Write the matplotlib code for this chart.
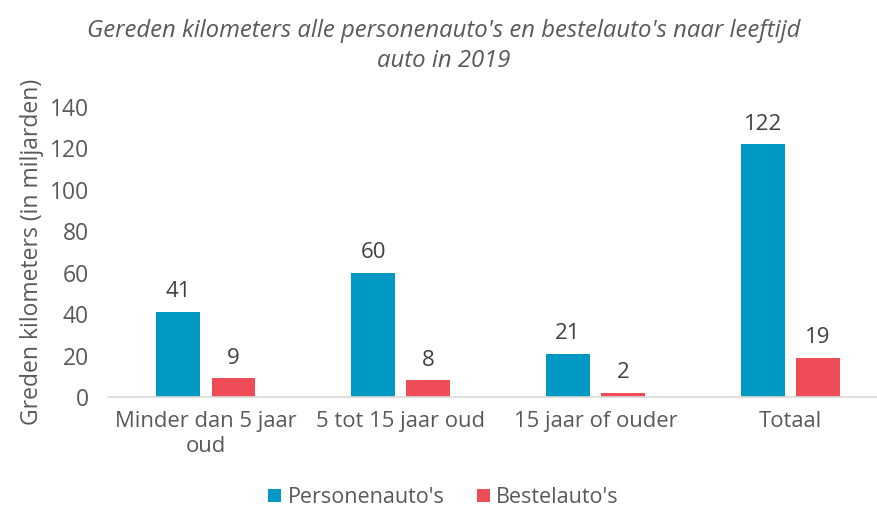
import matplotlib
matplotlib.use('Agg')
import matplotlib.pyplot as plt
import numpy as np

categories = ['Minder dan 5 jaar\noud', '5 tot 15 jaar oud', '15 jaar of ouder', 'Totaal']
personen = [41, 60, 21, 122]
bestel = [9, 8, 2, 19]
series_names = ["Personenauto's", "Bestelauto's"]
yticks = [0, 20, 40, 60, 80, 100, 120, 140]

plt.rcParams['font.family'] = ['Open Sans', 'DejaVu Sans']
grey = '#595959'
blue = '#0099C4'
red = '#EE4D57'

fig = plt.figure(figsize=(8.78, 5.13), dpi=100)
ax = fig.add_axes([108.5/878, 1-397/513, 1-108.5/878, (397-107)/513])

x = np.arange(len(categories))
w = 0.225
off = 0.142
b1 = ax.bar(x-off, personen, w, color=blue, label=series_names[0])
b2 = ax.bar(x+off, bestel, w, color=red, label=series_names[1])

for bars, vals in [(b1, personen), (b2, bestel)]:
    for r, v in zip(bars, vals):
        ax.annotate(str(v), (r.get_x()+r.get_width()/2, v), xytext=(0, 7),
                    textcoords='offset points', ha='center', va='bottom',
                    fontsize=16, color='#404040')

ax.set_xlim(-0.5, 3.45)
ax.set_ylim(0, 140)
ax.set_yticks(yticks)
ax.set_xticks(x)
ax.set_xticklabels(categories)
ax.tick_params(axis='y', length=0, pad=14, labelsize=16.5, labelcolor=grey)
ax.tick_params(axis='x', length=0, pad=10, labelsize=15.8, labelcolor=grey)
for t in ax.get_xticklabels():
    t.set_linespacing(1.25)
for s in ['top', 'right', 'left']:
    ax.spines[s].set_visible(False)
ax.spines['bottom'].set_color('#D9D9D9')
ax.spines['bottom'].set_linewidth(1.2)
ax.set_ylabel('Greden kilometers (in miljarden)', fontsize=16.5, color=grey, labelpad=4)

fig.text(0.505, 0.91, "Gereden kilometers alle personenauto's en bestelauto's naar leeftijd\nauto in 2019",
         ha='center', va='center', fontsize=17.2, style='italic', color=grey, linespacing=1.35)

fig.legend(handles=[b1, b2], loc='center', bbox_to_anchor=(0.505, 0.03), ncol=2, frameon=False,
           fontsize=15.5, labelcolor=grey, handlelength=0.6, handleheight=0.6, handletextpad=0.3,
           columnspacing=1.5, borderpad=0.2)

fig.savefig('out.png', dpi=100)
